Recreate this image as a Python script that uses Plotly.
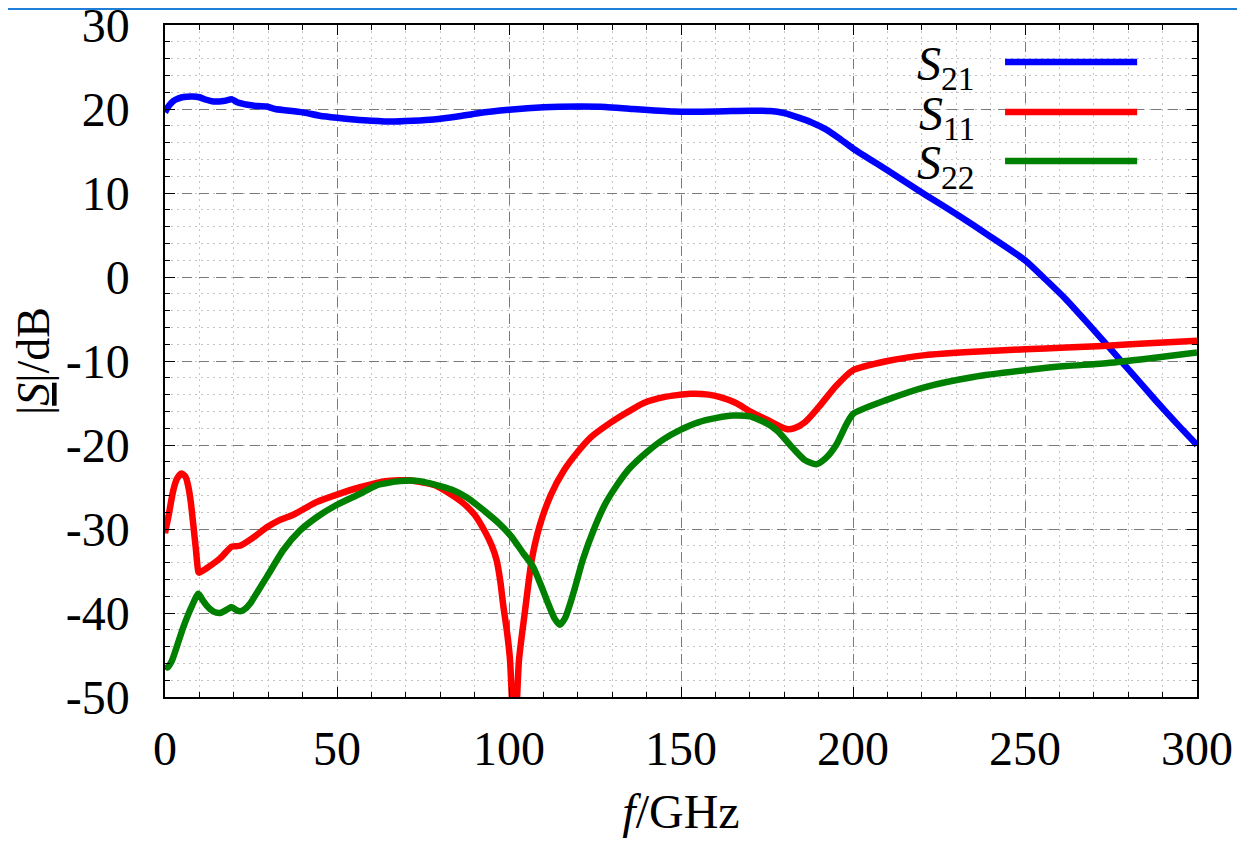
import plotly.graph_objects as go

# ---------------- data ----------------
f_s21 = [0, 1, 2, 3, 5, 8, 10, 12, 14, 17, 19.5, 21, 24, 27, 29.6, 32, 35, 40, 45, 50,
         55, 60, 66, 72, 78, 85, 91, 100, 110, 120, 128, 136, 148, 160, 170, 176, 180,
         184, 188, 192, 196, 200, 210, 221, 230, 240, 250, 256, 262, 268, 276, 282,
         288, 294, 300]
s21 = [19.6, 20.3, 20.8, 21.1, 21.4, 21.5, 21.4, 21.1, 20.9, 20.95, 21.15, 20.8, 20.5,
       20.35, 20.3, 20.0, 19.85, 19.6, 19.2, 18.95, 18.75, 18.6, 18.5, 18.6, 18.75, 19.1,
       19.5, 19.9, 20.2, 20.3, 20.25, 20.0, 19.7, 19.7, 19.8, 19.75, 19.5, 19.0, 18.4,
       17.6, 16.5, 15.3, 12.7, 9.8, 7.5, 4.8, 2.0, -0.3, -2.7, -5.4, -9.1, -11.9, -14.7,
       -17.4, -20.0]

f_s11 = [0, 1, 2.4, 3.5, 4.8, 6, 6.8, 7.5, 8.2, 9, 9.7, 10, 12, 16, 19.4, 21.8, 25.7,
         29.6, 33, 37.3, 44, 50, 57, 64, 68, 71, 78.5, 86, 90, 93, 95, 96.4, 97.5, 98.3,
         99.5, 100.3, 101.6, 102.9, 104.7, 106.6, 109, 112.2, 116, 120, 124, 128.6, 134,
         139.2, 145, 152.7, 158, 161.4, 166, 170, 175, 180.6, 183, 186, 190, 195, 200,
         210, 221, 235, 250, 262, 272.7, 286, 300]
s11 = [-30.5, -28.5, -25.4, -24.0, -23.4, -23.8, -25.0, -26.8, -29.4, -32.5, -35.1,
       -35.2, -34.7, -33.5, -32.1, -32.0, -31.0, -29.8, -29.0, -28.3, -26.8, -25.9,
       -25.0, -24.3, -24.2, -24.2, -24.8, -26.7, -28.3, -30.3, -32.0, -33.7, -36.3,
       -39.0, -42.5, -45.6, -56.0, -45.6, -39.6, -33.7, -29.5, -25.9, -23.0, -20.8,
       -19.0, -17.6, -16.2, -15.0, -14.3, -13.9, -14.0, -14.3, -15.0, -16.0, -17.0,
       -18.1, -18.0, -17.3, -15.5, -13.0, -11.1, -10.0, -9.3, -8.9, -8.6, -8.4, -8.2,
       -7.9, -7.6]

f_s22 = [0, 0.7, 2, 5.3, 8, 9.7, 11, 12.1, 14, 16, 18, 19.4, 20.5, 21.8, 23, 24.7, 27,
         29.6, 34.4, 39.2, 44.1, 49.6, 56.7, 61.5, 68.3, 74, 83.3, 88, 93, 97, 100.7,
         104, 107, 109.5, 111.5, 113.3, 114.8, 116.3, 118, 119.5, 121.5, 124.8, 128,
         131.5, 135, 140.2, 145, 149.8, 155, 160, 165.2, 170, 174.8, 178, 182.6, 186,
         189.3, 192, 195.1, 198, 200, 210, 221, 235, 250, 262, 272.7, 286, 300]
s22 = [-46.2, -46.5, -45.7, -41.7, -39.0, -37.7, -38.5, -39.1, -39.8, -40.0, -39.6,
       -39.3, -39.6, -39.8, -39.6, -38.9, -37.4, -35.7, -32.5, -30.2, -28.6, -27.2,
       -25.8, -24.8, -24.3, -24.3, -25.3, -26.3, -27.9, -29.3, -30.9, -32.8, -34.5,
       -36.9, -39.0, -40.7, -41.4, -40.6, -38.6, -36.5, -33.6, -29.9, -27.0, -24.7,
       -22.8, -20.8, -19.3, -18.2, -17.3, -16.8, -16.5, -16.6, -17.4, -18.3, -20.4,
       -21.8, -22.3, -21.6, -20.0, -17.6, -16.3, -14.6, -13.1, -11.9, -11.1, -10.6,
       -10.3, -9.7, -9.0]

series_names = ["<i>S</i><sub>21</sub>", "<i>S</i><sub>11</sub>", "<i>S</i><sub>22</sub>"]
series_colors = ["#0000ff", "#ff0000", "#008000"]
x_range = [0, 300]
y_range = [-50, 30]
x_tick_vals = [0, 50, 100, 150, 200, 250, 300]
x_tick_text = ["0", "50", "100", "150", "200", "250", "300"]
y_tick_vals = [-50, -40, -30, -20, -10, 0, 10, 20, 30]
y_tick_text = ["-50", "-40", "-30", "-20", "-10", "0", "10", "20", "30"]

FONT = "Liberation Serif, Times New Roman, serif"

fig = go.Figure()
for fx, fy, name, col in zip([f_s21, f_s11, f_s22], [s21, s11, s22], series_names, series_colors):
    fig.add_trace(go.Scatter(x=fx, y=fy, mode="lines", name=name,
                             line=dict(color=col, width=6.5, shape="spline", smoothing=0.6),
                             showlegend=False))

axis_common = dict(
    showline=True, linecolor="black", linewidth=1.5, mirror="allticks",
    ticks="inside", ticklen=10, tickwidth=1.3, tickcolor="black",
    showgrid=True, gridcolor="#7a7a7a", gridwidth=1.3, griddash="10px,7px",
    zeroline=False, tickfont=dict(family=FONT, size=48, color="black"),
    automargin=False, ticklabeloverflow="allow",
)

fig.update_xaxes(range=x_range, tickmode="array", tickvals=x_tick_vals, ticktext=x_tick_text,
                 **axis_common, ticklabelstandoff=9,
                 minor=dict(dtick=10, tick0=0, ticks="inside", ticklen=5, tickcolor="black",
                            showgrid=True, gridcolor="#c4c4c4", griddash="2px,4px",
                            gridwidth=1),
                 title=dict(text="<i>f</i>/GHz", font=dict(family=FONT, size=48, color="black"),
                            standoff=20))
fig.update_yaxes(range=y_range, tickmode="array", tickvals=y_tick_vals, ticktext=y_tick_text,
                 **axis_common, ticklabelstandoff=24,
                 minor=dict(dtick=2, tick0=0, ticks="inside", ticklen=5, tickcolor="black",
                            showgrid=True, gridcolor="#c4c4c4", griddash="2px,4px",
                            gridwidth=1),
                 title=dict(text="|<i><u>S</u></i>|/dB", font=dict(family=FONT, size=46, color="black"),
                            standoff=12))

# gnuplot-style key: label text to the left of a line sample
key_y = [0.945, 0.8705, 0.7976]
for name, col, ky in zip(series_names, series_colors, key_y):
    fig.add_shape(type="line", xref="paper", yref="paper", x0=0.814, x1=0.942,
                  y0=ky, y1=ky, line=dict(color=col, width=6.5))
    fig.add_annotation(xref="paper", yref="paper", x=0.787, y=ky, xanchor="right",
                       yanchor="middle", text=name, showarrow=False, yshift=-5,
                       font=dict(family=FONT, size=48, color="black"),
                       bgcolor="rgba(255,255,255,0)")

# thin blue rule along the top edge of the page
fig.add_shape(type="line", xref="paper", yref="paper", x0=-0.17, x1=1.06,
              y0=1.0238, y1=1.0238, line=dict(color="#1f7fd8", width=2))

# the page body adds an 8px offset, so the figure is 8px smaller and margins shifted
fig.update_layout(
    width=1237, height=841,
    margin=dict(l=157, r=48, t=17, b=152),
    paper_bgcolor="white", plot_bgcolor="white",
    font=dict(family=FONT, color="black"),
)

fig.write_html("out.html")
